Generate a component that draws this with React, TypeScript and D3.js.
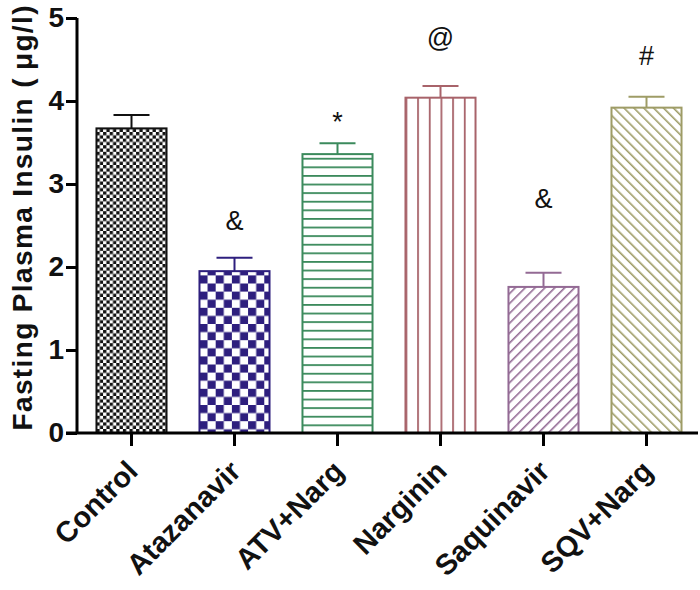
import React, { useEffect, useRef } from 'react'
import * as d3 from 'd3'

const categories = ['Control', 'Atazanavir', 'ATV+Narg', 'Narginin', 'Saquinavir', 'SQV+Narg']
const means = [3.67, 1.95, 3.36, 4.04, 1.76, 3.92]
const errors = [0.16, 0.16, 0.13, 0.14, 0.17, 0.13]
const marks = ['', '&', '*', '@', '&', '#']
// level (in y units) of each significance mark's baseline
const markLevels = [0, 2.45, 3.64, 4.65, 2.71, 4.43]
const yTicks = [0, 1, 2, 3, 4, 5]

const colors = ['#111111', '#2e1f7e', '#3b8a5c', '#a8636a', '#936a94', '#9e9c66']
const font = 'Liberation Sans, Arial, Helvetica, sans-serif'

const App = () => {
  const ref = useRef<SVGSVGElement>(null)

  useEffect(() => {
    document.body.style.margin = '0'
    const svg = d3.select(ref.current)
    svg.selectAll('*').remove()

    const x = d3.scaleBand<string>()
      .domain(categories)
      .range([80, 698])
      .paddingInner(0.32)
      .paddingOuter(0.16)
    const y = d3.scaleLinear().domain([0, 5]).range([433, 18])
    const bw = x.bandwidth()

    const defs = svg.append('defs')
    // checker patterns
    const checker = (id: string, s: number, c: string, x0: number) => {
      const p = defs.append('pattern').attr('id', id)
        .attr('patternUnits', 'userSpaceOnUse')
        .attr('x', x0)
        .attr('width', s * 2).attr('height', s * 2)
      p.append('rect').attr('width', s * 2).attr('height', s * 2).attr('fill', '#fff')
      p.append('rect').attr('width', s).attr('height', s).attr('fill', c)
      p.append('rect').attr('x', s).attr('y', s).attr('width', s).attr('height', s).attr('fill', c)
    }
    checker('p0', 3.3, colors[0], x('Control')!)
    checker('p1', 8.1, colors[1], x('Atazanavir')!)

    const hor = defs.append('pattern').attr('id', 'p2')
      .attr('patternUnits', 'userSpaceOnUse').attr('width', 10).attr('height', 8.6)
      .attr('y', y(0))
    hor.append('rect').attr('width', 10).attr('height', 8.6).attr('fill', '#fff')
    hor.append('line').attr('x1', 0).attr('x2', 10).attr('y1', 0).attr('y2', 0)
      .attr('stroke', colors[2]).attr('stroke-width', 3.6)

    const vw = bw / 6
    const ver = defs.append('pattern').attr('id', 'p3')
      .attr('patternUnits', 'userSpaceOnUse').attr('width', vw).attr('height', 10)
      .attr('x', x('Narginin')!)
    ver.append('rect').attr('width', vw).attr('height', 10).attr('fill', '#fff')
    ver.append('line').attr('y1', 0).attr('y2', 10).attr('x1', 0).attr('x2', 0)
      .attr('stroke', colors[3]).attr('stroke-width', 3.6)

    const diag = (id: string, c: string, angle: number) => {
      const p = defs.append('pattern').attr('id', id)
        .attr('patternUnits', 'userSpaceOnUse').attr('width', 7).attr('height', 7)
        .attr('patternTransform', `rotate(${angle})`)
      p.append('rect').attr('width', 7).attr('height', 7).attr('fill', '#fff')
      p.append('line').attr('x1', 0).attr('x2', 0).attr('y1', 0).attr('y2', 7)
        .attr('stroke', c).attr('stroke-width', 3.2)
    }
    diag('p4', colors[4], 45)
    diag('p5', colors[5], -45)

    // bars
    const g = svg.append('g')
    categories.forEach((c, i) => {
      const bx = x(c)!
      const cx = bx + bw / 2
      const top = y(means[i] + errors[i])
      g.append('line')
        .attr('x1', cx).attr('x2', cx)
        .attr('y1', y(means[i])).attr('y2', top)
        .attr('stroke', colors[i]).attr('stroke-width', 2)
      g.append('line')
        .attr('x1', cx - 18).attr('x2', cx + 18)
        .attr('y1', top).attr('y2', top)
        .attr('stroke', colors[i]).attr('stroke-width', 2)
      g.append('rect')
        .attr('x', bx).attr('y', y(means[i]))
        .attr('width', bw).attr('height', y(0) - y(means[i]))
        .attr('fill', `url(#p${i})`)
        .attr('stroke', colors[i]).attr('stroke-width', 2)
      if (marks[i]) {
        g.append('text')
          .attr('x', cx).attr('y', y(markLevels[i]))
          .attr('text-anchor', 'middle')
          .attr('font-family', font)
          .attr('font-size', 27)
          .attr('fill', '#111')
          .text(marks[i])
      }
    })

    // y axis
    const yAxis = svg.append('g').attr('transform', 'translate(77,0)')
      .call(d3.axisLeft(y).tickValues(yTicks).tickSize(11).tickPadding(2).tickFormat(d3.format('d')))
    yAxis.select('.domain').attr('stroke-width', 3).attr('d', `M0,${y(5)}V${y(0)}`)
    yAxis.selectAll('.tick line').attr('stroke-width', 3)
    yAxis.selectAll('.tick text')
      .attr('font-family', font)
      .attr('font-weight', 'bold').attr('font-size', 28).attr('fill', '#111')

    // x axis
    const xAxis = svg.append('g').attr('transform', `translate(0,${y(0)})`)
      .call(d3.axisBottom(x).tickSize(13).tickSizeOuter(0))
    xAxis.select('.domain').attr('stroke-width', 3).attr('d', 'M66,0H698')
    xAxis.selectAll('.tick line').attr('stroke-width', 3)
    xAxis.selectAll('.tick text')
      .attr('font-family', font)
      .attr('font-weight', 'bold').attr('font-size', 29).attr('fill', '#111')
      .attr('text-anchor', 'end')
      .attr('y', 0).attr('dy', 0)
      .attr('transform', 'translate(8,40) rotate(-45)')

    // y title
    svg.append('text')
      .attr('transform', `translate(32,218) rotate(-90)`)
      .attr('text-anchor', 'middle')
      .attr('font-family', font)
      .attr('font-weight', 'bold').attr('font-size', 28).attr('fill', '#111')
      .attr('textLength', 425).attr('lengthAdjust', 'spacing')
      .text('Fasting Plasma Insulin (\u2009\u03bcg/l)')
  }, [])

  return <svg ref={ref} width={700} height={590} style={{ display: 'block', background: '#fff' }} />
}

export default App
